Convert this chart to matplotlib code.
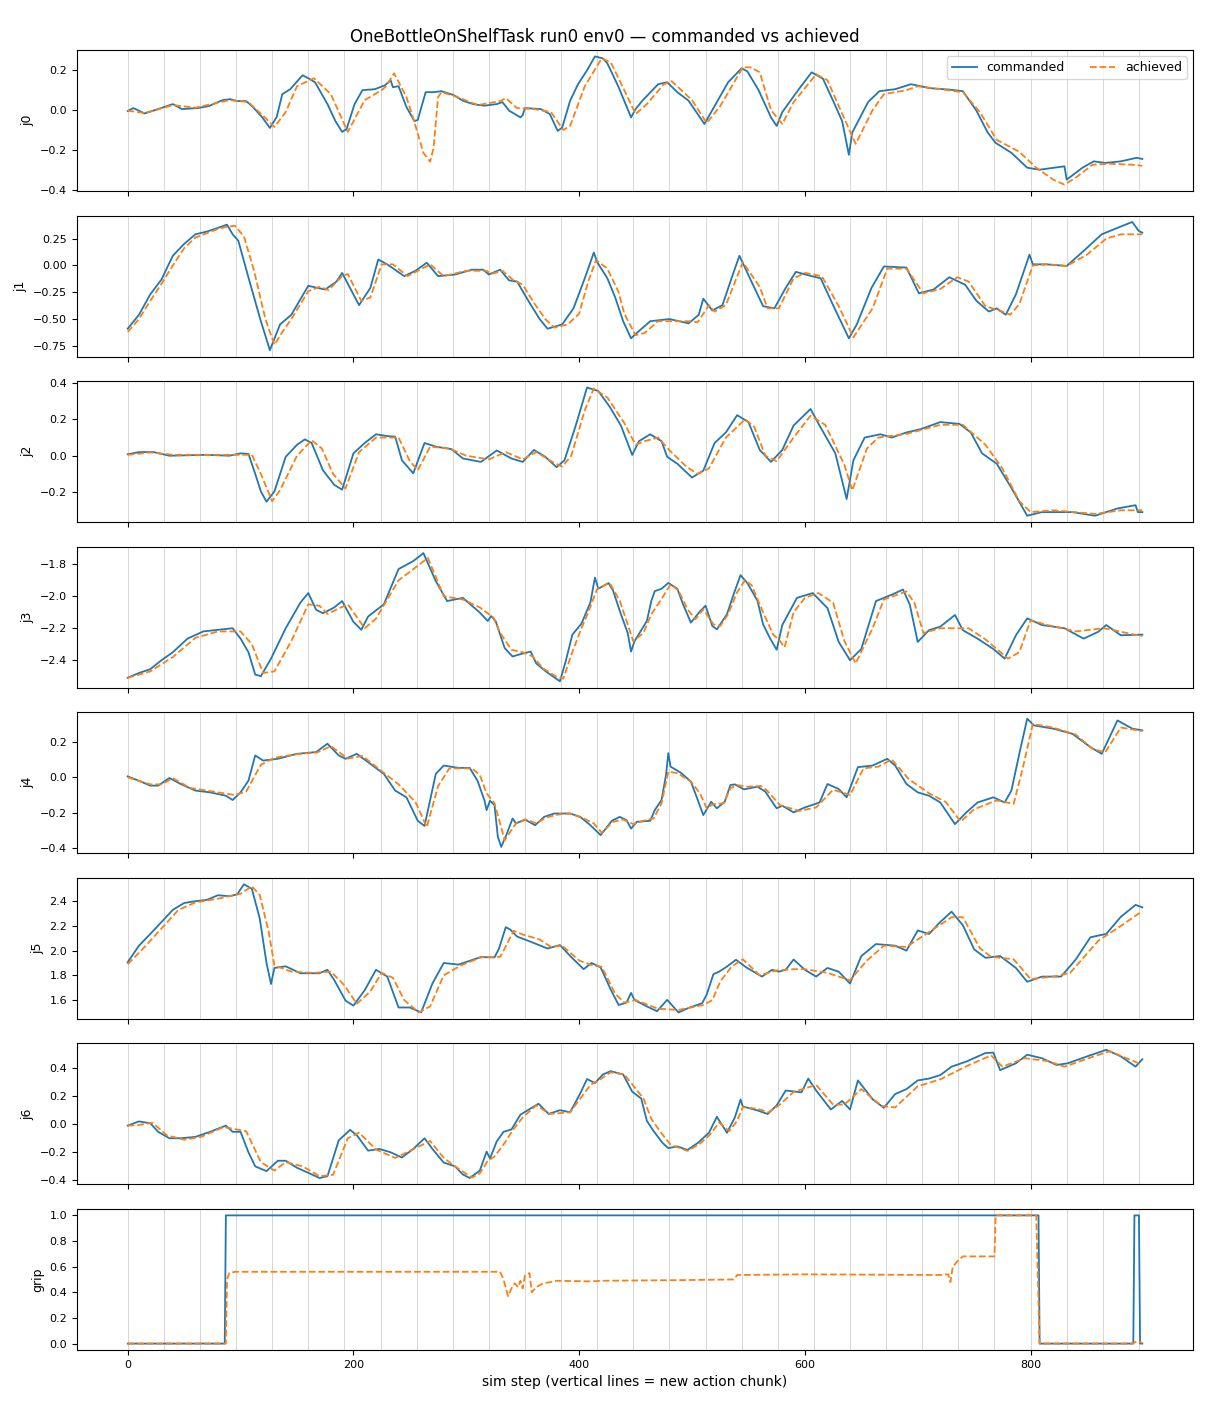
import matplotlib
matplotlib.use("Agg")
import matplotlib.pyplot as plt

# ---------------- data: (sim step, value) keypoints ----------------
j0_cmd = [(0,-0.005),(5,0.01),(15,-0.017),(27,0.005),(40,0.03),(48,0.005),(62,0.01),(72,0.02),(84,0.05),(91,0.055),
          (97,0.045),(105,0.045),(111,0.015),(119,-0.035),(126,-0.09),(132,-0.035),(137,0.08),(144,0.105),(151,0.15),
          (155,0.175),(160,0.16),(166,0.14),(177,0.03),(184,-0.055),(190,-0.11),(194,-0.095),(201,0.03),(208,0.1),
          (219,0.105),(228,0.125),(233,0.15),(235,0.115),(240,0.12),(247,0.015),(254,-0.055),(257,-0.05),(264,0.09),
          (271,0.09),(278,0.095),(289,0.075),(297,0.047),(306,0.03),(316,0.022),(327,0.03),(332,0.04),(338,-0.003),
          (348,-0.037),(350,-0.025),(352,0.01),(366,0.005),(374,-0.02),(381,-0.105),(385,-0.088),(392,0.047),(399,0.13),
          (407,0.2),(414,0.27),(421,0.26),(425,0.235),(435,0.115),(446,-0.037),(450,0.005),(456,0.047),(470,0.13),
          (478,0.14),(487,0.09),(497,0.047),(511,-0.07),(521,0.03),(532,0.14),(544,0.21),(549,0.195),(559,0.1),
          (570,-0.037),(575,-0.08),(580,-0.01),(594,0.1),(606,0.19),(616,0.158),(625,0.047),(633,-0.055),(639,-0.225),
          (642,-0.113),(656,0.04),(666,0.095),(680,0.105),(694,0.13),(711,0.11),(728,0.103),(740,0.095),(752,-0.003),
          (762,-0.113),(769,-0.165),(783,-0.215),(797,-0.29),(808,-0.3),(830,-0.283),(832,-0.35),(846,-0.29),
          (856,-0.258),(866,-0.266),(880,-0.258),(894,-0.24),(899,-0.246)]
j0_ach = [(0,-0.003),(15,-0.015),(40,0.025),(60,0.012),(90,0.05),(107,0.04),(122,-0.04),(130,-0.085),(140,-0.01),
          (150,0.12),(165,0.16),(180,0.08),(195,-0.11),(210,0.05),(225,0.1),(229,0.12),(236,0.185),(242,0.12),
          (247,0.065),(254,-0.06),(262,-0.215),(268,-0.26),(271,-0.19),(275,0.065),(278,0.09),(290,0.07),(310,0.025),
          (330,0.045),(335,0.06),(345,0.01),(360,0.005),(375,-0.01),(386,-0.1),(392,-0.08),(405,0.12),(420,0.26),
          (428,0.24),(440,0.1),(450,-0.02),(460,0.03),(475,0.13),(482,0.145),(500,0.05),(513,-0.065),(525,0.02),
          (545,0.215),(552,0.215),(560,0.19),(570,0.0),(580,-0.07),(590,0.04),(610,0.18),(620,0.15),(630,0.02),
          (645,-0.17),(660,0.0),(670,0.08),(690,0.1),(700,0.12),(720,0.105),(740,0.09),(755,-0.01),(770,-0.15),
          (790,-0.21),(805,-0.29),(820,-0.35),(830,-0.375),(840,-0.34),(855,-0.275),(870,-0.27),(890,-0.275),(899,-0.28)]

j1_cmd = [(0,-0.59),(10,-0.46),(20,-0.27),(30,-0.13),(40,0.09),(50,0.2),(60,0.29),(70,0.315),(80,0.35),(88,0.38),
          (93,0.29),(98,0.23),(108,-0.15),(118,-0.52),(126,-0.79),(135,-0.55),(145,-0.46),(160,-0.19),(175,-0.225),
          (185,-0.15),(190,-0.07),(197,-0.21),(205,-0.37),(215,-0.21),(222,0.055),(230,0.01),(245,-0.1),(255,-0.05),
          (265,0.025),(275,-0.1),(290,-0.085),(305,-0.04),(315,-0.04),(320,-0.085),(330,-0.04),(338,-0.14),(345,-0.15),
          (355,-0.33),(365,-0.5),(372,-0.59),(385,-0.55),(395,-0.4),(405,-0.12),(413,0.12),(416,0.03),(425,-0.12),
          (432,-0.3),(439,-0.52),(446,-0.68),(451,-0.63),(463,-0.52),(480,-0.5),(497,-0.54),(506,-0.46),(510,-0.31),
          (518,-0.42),(527,-0.37),(535,-0.12),(542,0.09),(554,-0.18),(563,-0.38),(573,-0.4),(583,-0.21),(592,-0.06),
          (606,-0.1),(614,-0.12),(625,-0.37),(639,-0.68),(646,-0.55),(659,-0.21),(670,-0.01),(690,-0.02),(701,-0.26),
          (714,-0.225),(728,-0.11),(742,-0.18),(752,-0.33),(763,-0.43),(770,-0.4),(778,-0.46),(787,-0.27),(799,0.1),
          (802,0.01),(814,0.01),(832,-0.005),(847,0.135),(863,0.29),(877,0.35),(890,0.405),(896,0.32),(899,0.305)]
j1_ach = [(0,-0.62),(10,-0.5),(20,-0.33),(30,-0.17),(40,0.0),(50,0.16),(60,0.26),(70,0.3),(80,0.34),(88,0.36),
          (95,0.37),(103,0.27),(112,-0.05),(122,-0.5),(130,-0.74),(137,-0.62),(145,-0.5),(160,-0.24),(170,-0.2),
          (178,-0.23),(190,-0.1),(195,-0.08),(207,-0.33),(215,-0.3),(225,0.01),(235,0.01),(248,-0.1),(268,0.01),
          (280,-0.1),(300,-0.05),(318,-0.05),(322,-0.08),(332,-0.05),(342,-0.14),(350,-0.18),(360,-0.35),(370,-0.5),
          (378,-0.58),(390,-0.55),(400,-0.45),(408,-0.15),(415,0.05),(425,-0.03),(435,-0.25),(440,-0.45),(450,-0.65),
          (458,-0.63),(470,-0.52),(500,-0.52),(505,-0.53),(515,-0.37),(520,-0.43),(530,-0.37),(545,0.03),(560,-0.2),
          (567,-0.4),(577,-0.4),(590,-0.12),(600,-0.07),(615,-0.1),(630,-0.38),(643,-0.67),(660,-0.4),(673,-0.03),
          (690,-0.03),(705,-0.26),(720,-0.22),(735,-0.11),(745,-0.15),(760,-0.38),(775,-0.43),(782,-0.46),(790,-0.36),
          (802,0.0),(815,0.01),(832,-0.005),(850,0.1),(867,0.25),(880,0.29),(899,0.29)]

j2_cmd = [(0,0.008),(10,0.02),(23,0.02),(37,0.0),(70,0.005),(90,0.0),(100,0.013),(107,0.01),(113,-0.1),(118,-0.196),
          (123,-0.253),(130,-0.196),(140,-0.006),(150,0.06),(157,0.09),(163,0.07),(173,-0.08),(183,-0.16),(190,-0.187),
          (200,0.013),(210,0.07),(220,0.118),(230,0.108),(237,0.105),(243,-0.025),(253,-0.097),(263,0.07),(273,0.05),
          (287,0.036),(297,-0.015),(313,-0.034),(327,0.029),(340,-0.015),(350,-0.034),(360,0.032),(370,-0.006),
          (380,-0.063),(387,-0.025),(397,0.166),(407,0.375),(417,0.356),(427,0.27),(437,0.166),(447,0.004),(453,0.08),
          (463,0.118),(473,0.08),(478,-0.006),(487,-0.044),(500,-0.12),(510,-0.082),(520,0.07),(530,0.128),(540,0.223),
          (550,0.185),(560,0.032),(570,-0.034),(580,0.032),(590,0.166),(605,0.257),(613,0.166),(627,0.013),(637,-0.238),
          (643,-0.025),(653,0.1),(667,0.118),(677,0.1),(690,0.128),(703,0.147),(720,0.185),(737,0.175),(747,0.128),
          (757,0.013),(770,-0.044),(783,-0.177),(797,-0.33),(810,-0.31),(837,-0.31),(857,-0.33),(877,-0.29),
          (893,-0.272),(895,-0.31),(899,-0.31)]
j2_ach = [(0,0.005),(20,0.018),(40,0.005),(100,0.005),(110,0.005),(118,-0.1),(128,-0.25),(135,-0.19),(150,0.0),
          (163,0.085),(172,0.04),(182,-0.1),(193,-0.18),(205,0.02),(220,0.1),(240,0.1),(250,-0.03),(257,-0.08),
          (268,0.05),(285,0.04),(300,0.0),(320,-0.02),(335,0.02),(350,-0.02),(362,0.02),(378,-0.04),(385,-0.06),
          (393,0.0),(405,0.25),(413,0.37),(425,0.32),(440,0.18),(450,0.06),(458,0.08),(470,0.1),(480,0.03),(495,-0.06),
          (505,-0.1),(515,-0.07),(530,0.1),(547,0.2),(555,0.16),(565,0.0),(575,-0.03),(590,0.1),(605,0.22),(618,0.17),
          (635,-0.05),(642,-0.19),(655,0.04),(665,0.1),(690,0.12),(720,0.17),(740,0.17),(760,0.06),(775,-0.07),
          (790,-0.25),(800,-0.31),(820,-0.3),(857,-0.32),(880,-0.3),(899,-0.3)]

j3_cmd = [(0,-2.51),(10,-2.48),(20,-2.456),(30,-2.4),(40,-2.35),(53,-2.265),(67,-2.22),(80,-2.21),(93,-2.2),
          (100,-2.265),(107,-2.35),(113,-2.49),(118,-2.5),(127,-2.39),(140,-2.2),(153,-2.04),(160,-1.98),(167,-2.085),
          (173,-2.106),(183,-2.07),(190,-2.03),(200,-2.16),(207,-2.21),(213,-2.127),(227,-2.05),(240,-1.83),(253,-1.78),
          (262,-1.73),(273,-1.905),(283,-2.03),(297,-2.01),(312,-2.102),(319,-2.155),(322,-2.124),(326,-2.155),
          (334,-2.324),(341,-2.377),(348,-2.362),(357,-2.346),(362,-2.42),(371,-2.473),(383,-2.532),(388,-2.409),
          (394,-2.24),(402,-2.172),(410,-2.038),(414,-1.883),(417,-1.953),(426,-1.917),(430,-1.964),(437,-2.112),
          (443,-2.229),(446,-2.346),(449,-2.282),(460,-2.155),(464,-2.028),(467,-1.968),(473,-1.953),(479,-1.917),
          (487,-1.953),(492,-2.049),(499,-2.165),(507,-2.095),(512,-2.059),(518,-2.186),(522,-2.207),(531,-2.112),
          (537,-1.985),(543,-1.868),(549,-1.917),(558,-2.028),(563,-2.176),(569,-2.261),(575,-2.335),(580,-2.18),
          (593,-2.01),(607,-1.98),(620,-2.074),(630,-2.286),(640,-2.4),(650,-2.33),(663,-2.03),(677,-1.99),(687,-1.958),
          (693,-2.053),(700,-2.286),(710,-2.212),(720,-2.19),(733,-2.117),(740,-2.212),(753,-2.265),(767,-2.33),
          (777,-2.39),(787,-2.244),(797,-2.138),(810,-2.18),(830,-2.2),(847,-2.265),(860,-2.222),(867,-2.18),
          (880,-2.244),(899,-2.24)]
j3_ach = [(0,-2.51),(20,-2.47),(40,-2.38),(60,-2.26),(80,-2.22),(100,-2.22),(110,-2.3),(120,-2.48),(130,-2.47),
          (145,-2.28),(160,-2.05),(170,-2.06),(177,-2.11),(195,-2.05),(210,-2.2),(220,-2.14),(240,-1.9),(255,-1.82),
          (266,-1.76),(280,-2.0),(297,-2.02),(312,-2.07),(324,-2.133),(330,-2.229),(340,-2.335),(350,-2.35),
          (359,-2.377),(368,-2.451),(380,-2.504),(386,-2.515),(393,-2.367),(401,-2.218),(408,-2.102),(416,-1.953),
          (427,-1.917),(436,-2.028),(442,-2.155),(448,-2.282),(457,-2.229),(464,-2.112),(473,-2.017),(481,-1.926),
          (488,-1.964),(496,-2.081),(503,-2.144),(510,-2.081),(519,-2.176),(525,-2.186),(532,-2.112),(540,-1.974),
          (547,-1.9),(553,-1.932),(563,-2.102),(572,-2.24),(578,-2.28),(582,-2.32),(590,-2.1),
          (600,-2.01),(612,-1.98),(625,-2.04),(635,-2.28),(645,-2.42),(660,-2.2),(670,-2.02),(690,-1.97),(697,-2.04),
          (705,-2.23),(720,-2.2),(745,-2.2),(760,-2.27),(780,-2.39),(790,-2.35),(800,-2.15),(815,-2.18),(840,-2.22),
          (865,-2.2),(899,-2.25)]

j4_cmd = [(0,0.005),(10,-0.02),(20,-0.047),(27,-0.047),(37,-0.004),(47,-0.038),(60,-0.075),(73,-0.085),(87,-0.104),
          (93,-0.128),(100,-0.085),(107,-0.019),(113,0.123),(120,0.094),(133,0.104),(150,0.132),(167,0.142),(177,0.189),
          (187,0.123),(193,0.104),(203,0.132),(213,0.085),(227,0.019),(237,-0.075),(247,-0.113),(257,-0.245),
          (263,-0.274),(273,0.019),(280,0.066),(293,0.053),(303,0.053),(310,-0.02),(316,-0.128),(318,-0.185),
          (321,-0.132),(325,-0.157),(328,-0.336),(331,-0.392),(336,-0.317),(341,-0.232),(344,-0.26),(352,-0.238),
          (361,-0.27),(369,-0.223),(378,-0.204),(392,-0.204),(401,-0.223),(410,-0.27),(419,-0.326),(429,-0.245),
          (436,-0.223),(442,-0.242),(446,-0.289),(451,-0.251),(463,-0.245),(467,-0.185),(473,-0.128),(477,0.013),
          (479,0.136),(481,0.06),(490,0.026),(499,-0.024),(504,-0.109),(510,-0.213),(517,-0.138),(522,-0.175),
          (529,-0.138),(534,-0.044),(538,-0.04),(546,-0.068),(558,-0.053),(565,-0.081),(571,-0.138),(575,-0.175),
          (580,-0.16),(590,-0.198),(600,-0.17),(613,-0.142),(620,-0.038),
          (630,-0.066),(637,-0.113),(647,0.057),(660,0.066),(673,0.104),(680,0.066),(690,-0.038),(700,-0.085),
          (710,-0.104),(720,-0.142),(733,-0.264),(743,-0.198),(753,-0.142),(767,-0.113),(777,-0.142),(783,-0.075),
          (790,0.132),(797,0.33),(803,0.292),(820,0.274),(837,0.245),(853,0.17),(863,0.132),(870,0.226),(877,0.32),
          (890,0.274),(899,0.264)]
j4_ach = [(0,0.0),(20,-0.04),(30,-0.04),(40,-0.005),(55,-0.06),(75,-0.08),(95,-0.1),(105,-0.08),(118,0.07),(130,0.11),
          (150,0.13),(168,0.14),(180,0.175),(195,0.105),(208,0.12),(220,0.06),(240,-0.04),(255,-0.14),(265,-0.28),
          (275,-0.05),(285,0.05),(305,0.05),(312,0.013),(318,-0.09),(325,-0.147),(330,-0.26),(334,-0.355),
          (339,-0.307),(344,-0.26),(353,-0.238),(362,-0.26),(371,-0.226),(383,-0.208),(392,-0.204),(404,-0.232),
          (413,-0.26),(420,-0.313),(430,-0.251),(439,-0.238),(448,-0.264),(457,-0.245),(466,-0.232),(473,-0.147),
          (479,0.032),(487,0.023),(499,-0.024),(507,-0.09),(513,-0.175),(519,-0.151),(528,-0.147),(534,-0.062),
          (540,-0.044),(549,-0.053),(561,-0.049),(566,-0.072),(578,-0.157),(595,-0.19),(610,-0.17),(625,-0.07),
          (640,-0.1),(652,0.05),(665,0.06),(677,0.1),(692,-0.01),(710,-0.09),(725,-0.14),(738,-0.25),(750,-0.18),
          (770,-0.13),(785,-0.15),(793,0.05),(802,0.3),(820,0.28),(840,0.24),(855,0.16),(866,0.14),(880,0.28),(899,0.26)]

j5_cmd = [(0,1.906),(10,2.04),(20,2.135),(30,2.232),(40,2.33),(50,2.385),(60,2.4),(70,2.41),(80,2.448),(90,2.44),
          (97,2.455),(103,2.537),(110,2.5),(117,2.26),(123,1.9),(127,1.73),(130,1.86),(140,1.873),(153,1.817),
          (170,1.817),(177,1.845),(183,1.762),(193,1.596),(200,1.555),(210,1.68),(220,1.845),(230,1.79),(240,1.54),
          (250,1.54),(260,1.5),(270,1.734),(280,1.9),(293,1.887),(313,1.948),(325,1.945),(329,2.017),(335,2.19),
          (339,2.17),(345,2.114),(357,2.072),(372,2.017),(383,2.045),(393,1.948),(404,1.85),(411,1.9),(419,1.865),
          (428,1.685),(435,1.56),(442,1.58),(446,1.658),(449,1.602),(459,1.553),(469,1.51),(478,1.602),(488,1.5),
          (496,1.533),(509,1.575),(513,1.644),(519,1.81),(524,1.83),(530,1.865),(539,1.926),(548,1.865),(562,1.79),
          (571,1.845),(577,1.83),(583,1.845),(590,1.928),(600,1.845),(610,1.79),(620,1.86),(630,1.83),
          (640,1.734),(650,1.956),(663,2.053),(680,2.04),(690,2.0),(700,2.163),(710,2.135),(720,2.232),(730,2.315),
          (740,2.205),(750,2.01),(760,1.942),(773,1.956),(787,1.86),(797,1.748),(810,1.79),(827,1.79),(840,1.928),
          (853,2.108),(867,2.135),(880,2.274),(893,2.37),(899,2.35)]
j5_ach = [(0,1.89),(15,2.03),(30,2.18),(45,2.33),(60,2.39),(80,2.42),(100,2.46),(110,2.52),(117,2.45),(125,2.15),
          (130,1.88),(145,1.83),(165,1.82),(180,1.83),(192,1.72),(203,1.57),(215,1.67),(225,1.82),(235,1.78),(245,1.6),
          (258,1.5),(268,1.55),(280,1.8),(295,1.88),(313,1.945),(330,1.95),(333,2.0),(342,2.16),(350,2.13),(365,2.09),
          (375,2.03),(385,2.04),(400,1.92),(412,1.88),(420,1.87),(432,1.65),(440,1.58),(450,1.6),(470,1.53),(488,1.52),
          (510,1.56),(518,1.6),(525,1.75),(535,1.87),(545,1.93),(560,1.8),(575,1.84),(590,1.85),(600,1.85),
          (620,1.82),(640,1.76),(655,1.92),(670,2.04),(690,2.03),(705,2.12),(730,2.27),
          (740,2.27),(755,2.02),(765,1.95),(785,1.93),(800,1.77),(820,1.79),(835,1.82),(860,2.08),(880,2.2),(899,2.32)]

j6_cmd = [(0,-0.01),(10,0.02),(20,0.007),(27,-0.054),(37,-0.1),(47,-0.1),(60,-0.09),(73,-0.054),(87,-0.01),
          (93,-0.054),(100,-0.054),(107,-0.2),(113,-0.3),(123,-0.334),(133,-0.26),(140,-0.26),(150,-0.31),(160,-0.346),
          (170,-0.383),(177,-0.37),(187,-0.115),(197,-0.04),(203,-0.078),(213,-0.188),(223,-0.176),(233,-0.2),
          (243,-0.237),(253,-0.176),(263,-0.1),(270,-0.176),(280,-0.273),(290,-0.3),(297,-0.358),(303,-0.383),
          (312,-0.33),(318,-0.195),(321,-0.244),(327,-0.122),(333,-0.054),(340,-0.037),(348,0.068),(359,0.122),
          (364,0.146),(373,0.073),(383,0.1),(392,0.085),(401,0.22),(407,0.322),(414,0.293),(421,0.354),(428,0.378),
          (439,0.354),(447,0.232),(455,0.183),(460,0.024),(466,-0.049),(474,-0.134),(479,-0.17),(487,-0.158),
          (496,-0.183),(505,-0.134),(515,-0.061),(522,0.053),(531,-0.061),(538,0.049),(543,0.176),(545,0.127),
          (558,0.098),(567,0.073),(575,0.134),(583,0.24),(597,0.227),(603,0.325),(610,0.24),(623,0.105),(633,0.166),
          (640,0.105),(647,0.312),(660,0.178),(670,0.117),(680,0.215),(690,0.25),(700,0.312),(710,0.325),(720,0.35),
          (730,0.41),(743,0.446),(760,0.507),(767,0.51),(773,0.385),(787,0.434),(797,0.495),(810,0.47),(823,0.422),
          (833,0.434),(850,0.483),(867,0.53),(880,0.483),(893,0.41),(899,0.463)]
j6_ach = [(0,-0.01),(10,-0.005),(22,0.01),(35,-0.08),(50,-0.11),(65,-0.09),(85,-0.02),(105,-0.05),(118,-0.27),
          (130,-0.33),(140,-0.27),(155,-0.3),(170,-0.37),(182,-0.36),(195,-0.1),(205,-0.06),(220,-0.18),(237,-0.24),
          (255,-0.17),(268,-0.12),(280,-0.24),(290,-0.3),(305,-0.38),(312,-0.35),(319,-0.26),(325,-0.23),
          (334,-0.134),(341,-0.044),(350,0.049),(362,0.134),(374,0.073),(392,0.085),(401,0.183),(410,0.28),
          (419,0.322),(428,0.37),(440,0.354),(451,0.244),(457,0.183),(464,0.037),(472,-0.054),(481,-0.146),
          (496,-0.19),(507,-0.139),(516,-0.073),(524,0.012),(533,-0.049),(540,0.024),(545,0.122),(558,0.11),
          (568,0.085),(578,0.141),(590,0.23),(610,0.28),(625,0.14),
          (635,0.14),(650,0.25),(668,0.13),(680,0.12),(700,0.27),(720,0.32),(745,0.42),(765,0.49),(775,0.41),
          (795,0.47),(815,0.45),(830,0.41),(855,0.48),(870,0.52),(885,0.47),(897,0.43)]

grip_cmd = [(0,0.0),(86,0.0),(87,1.0),(807,1.0),(808,0.0),(891,0.0),(892,1.0),(896,1.0),(897,0.0),(899,0.0)]
grip_ach = [(0,0.0),(87,0.0),(88,0.5),(90,0.55),(95,0.56),(330,0.56),(333,0.5),(337,0.37),(340,0.43),(343,0.47),
            (346,0.44),(348,0.49),(350,0.43),(352,0.53),(356,0.55),(358,0.4),(362,0.44),(368,0.47),(375,0.48),
            (380,0.49),(410,0.485),(420,0.49),(490,0.495),(537,0.5),(540,0.535),(600,0.54),(720,0.535),(727,0.54),
            (729,0.48),(731,0.6),(735,0.64),(740,0.68),(768,0.68),(769,1.0),(805,1.0),(808,0.0),(890,0.0),(895,0.02),
            (899,0.005)]

joint_names = ["j0", "j1", "j2", "j3", "j4", "j5", "j6", "grip"]
commanded = [j0_cmd, j1_cmd, j2_cmd, j3_cmd, j4_cmd, j5_cmd, j6_cmd, grip_cmd]
achieved = [j0_ach, j1_ach, j2_ach, j3_ach, j4_ach, j5_ach, j6_ach, grip_ach]
chunk_len = 32
n_steps = 900
title = "OneBottleOnShelfTask run0 env0 \u2014 commanded vs achieved"
xlabel = "sim step (vertical lines = new action chunk)"

# ---------------- plotting ----------------
fig, axes = plt.subplots(len(joint_names), 1, sharex=True, figsize=(12.1, 14.08), dpi=100)
fig.subplots_adjust(left=0.0636, right=0.986, top=0.9645, bottom=0.0412, hspace=0.174)

chunk_starts = list(range(0, n_steps, chunk_len))
for i, (ax, name) in enumerate(zip(axes, joint_names)):
    for s in chunk_starts:
        ax.axvline(s, color="0.8", lw=0.7, alpha=0.8, zorder=0)
    cx, cy = zip(*commanded[i])
    hx, hy = zip(*achieved[i])
    ax.plot(cx, cy, color="#1f77b4", lw=1.3, label="commanded")
    ax.plot(hx, hy, color="#ff7f0e", lw=1.3, ls="--", label="achieved")
    ax.set_ylabel(name, fontsize=9)
    ax.tick_params(labelsize=8)
    if i == 0:
        ax.legend(loc="upper right", ncol=2, fontsize=9)

axes[-1].set_xlabel(xlabel, fontsize=10)
fig.suptitle(title, fontsize=12, y=0.974, va="center")
fig.savefig("out.png", dpi=100)
